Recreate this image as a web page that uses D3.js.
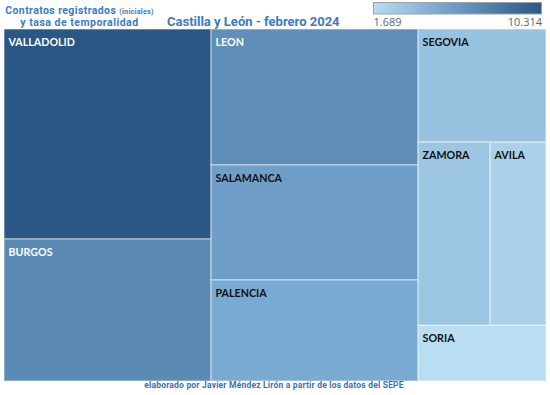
<!DOCTYPE html>
<html>
<head>
<meta charset="utf-8">
<title>Contratos Castilla y León</title>
<style>
  body { margin: 0; background: #fff; }
  svg { display: block; }
  .lbl { font-family: Lato, sans-serif; font-weight: bold; font-size: 10.7px; }
  .tit { font-family: Roboto, sans-serif; font-weight: bold; fill: #3a7cbf; }
</style>
<script src="https://cdn.jsdelivr.net/npm/d3@7"></script>
</head>
<body>
<script>
// contratos registrados (iniciales), febrero 2024
var provincias = ["VALLADOLID", "BURGOS", "LEON", "SALAMANCA", "PALENCIA", "SEGOVIA", "ZAMORA", "AVILA", "SORIA"];
var contratos  = [10314, 6975, 6680, 5649, 4961, 3432, 3127, 2432, 1689];
// how the tiles are grouped (columns, then rows)
var grupos = [["VALLADOLID", "BURGOS"], ["LEON", "SALAMANCA", "PALENCIA"], ["SEGOVIA", ["ZAMORA", "AVILA"], "SORIA"]];
var oscuros = ["VALLADOLID", "BURGOS", "LEON"];

var W = 550, H = 395;
var margin = {top: 29, right: 4, bottom: 14, left: 4};
var width = W - margin.left - margin.right;
var height = H - margin.top - margin.bottom;

var svg = d3.select("body").append("svg")
  .attr("width", W)
  .attr("height", H);

function nodo(g) {
  if (Array.isArray(g)) return {children: g.map(nodo)};
  return {name: g, value: contratos[provincias.indexOf(g)]};
}

var root = d3.hierarchy({children: grupos.map(nodo)})
  .sum(function(d) { return d.value || 0; });

d3.treemap()
  .size([width, height])
  .tile(function(node, x0, y0, x1, y1) {
    (node.depth % 2 === 0 ? d3.treemapDice : d3.treemapSlice)(node, x0, y0, x1, y1);
  })(root);

var cmin = d3.min(contratos), cmax = d3.max(contratos);
var color = d3.scaleLinear()
  .domain([cmin, cmin + 0.4 * (cmax - cmin), cmax])
  .range(["#b9ddf1", "#76a7cf", "#2a5783"]);

var chart = svg.append("g")
  .attr("transform", "translate(" + margin.left + "," + margin.top + ")");

var cells = chart.selectAll("g.cell")
  .data(root.leaves())
  .enter().append("g")
    .attr("class", "cell")
    .attr("transform", function(d) { return "translate(" + d.x0 + "," + d.y0 + ")"; });

cells.append("rect")
  .attr("width", function(d) { return d.x1 - d.x0; })
  .attr("height", function(d) { return d.y1 - d.y0; })
  .attr("fill", function(d) { return color(d.data.value); })
  .attr("stroke", "rgba(255,255,255,0.5)")
  .attr("stroke-width", 1.2);

cells.append("text")
  .attr("class", "lbl")
  .attr("x", 4.5)
  .attr("y", 17)
  .attr("fill", function(d) { return oscuros.indexOf(d.data.name) >= 0 ? "#fff" : "#111"; })
  .text(function(d) { return d.data.name; });

// titles
var t1 = svg.append("text").attr("class", "tit")
  .attr("x", 79.5).attr("y", 14)
  .attr("text-anchor", "middle")
  .style("font-size", "10.5px")
  .style("letter-spacing", "0.4px");
t1.append("tspan").text("Contratos registrados ");
t1.append("tspan").style("font-size", "7.3px").style("letter-spacing", "0.2px").text("(iniciales)");

svg.append("text").attr("class", "tit")
  .attr("x", 79.5).attr("y", 26.4)
  .attr("text-anchor", "middle")
  .style("font-size", "10.5px")
  .style("letter-spacing", "0.5px")
  .text("y tasa de temporalidad");

svg.append("text").attr("class", "tit")
  .attr("x", 167).attr("y", 26)
  .style("font-size", "13px")
  .text("Castilla y León - febrero 2024");

svg.append("text").attr("class", "tit")
  .attr("x", 274).attr("y", 388)
  .attr("text-anchor", "middle")
  .style("font-size", "8.5px")
  .style("letter-spacing", "0.2px")
  .style("fill", "#3d6fae")
  .text("elaborado por Javier Méndez Lirón a partir de los datos del SEPE");

// legend
var defs = svg.append("defs");
var grad = defs.append("linearGradient").attr("id", "leg");
grad.selectAll("stop")
  .data(d3.range(0, 1.01, 0.1))
  .enter().append("stop")
    .attr("offset", function(t) { return t; })
    .attr("stop-color", function(t) { return color(cmin + t * (cmax - cmin)); });

var lx = d3.scaleLinear().domain([cmin, cmax]).range([373.5, 541.5]);

svg.append("rect")
  .attr("x", lx.range()[0]).attr("y", 2.5)
  .attr("width", lx.range()[1] - lx.range()[0]).attr("height", 11.5)
  .attr("fill", "url(#leg)")
  .attr("stroke", "#a0a0a0");

var fmt = function(v) { return d3.format(",")(v).replace(/,/g, "."); };
svg.selectAll("text.leg")
  .data(lx.domain())
  .enter().append("text")
    .attr("class", "leg")
    .attr("x", function(d, i) { return i === 0 ? lx(d) : lx(d) + 0.5; })
    .attr("y", 26)
    .attr("text-anchor", function(d, i) { return i === 0 ? "start" : "end"; })
    .style("font-family", "'Open Sans', sans-serif")
    .style("font-size", "11px")
    .style("fill", "#666")
    .text(fmt);
</script>
</body>
</html>
